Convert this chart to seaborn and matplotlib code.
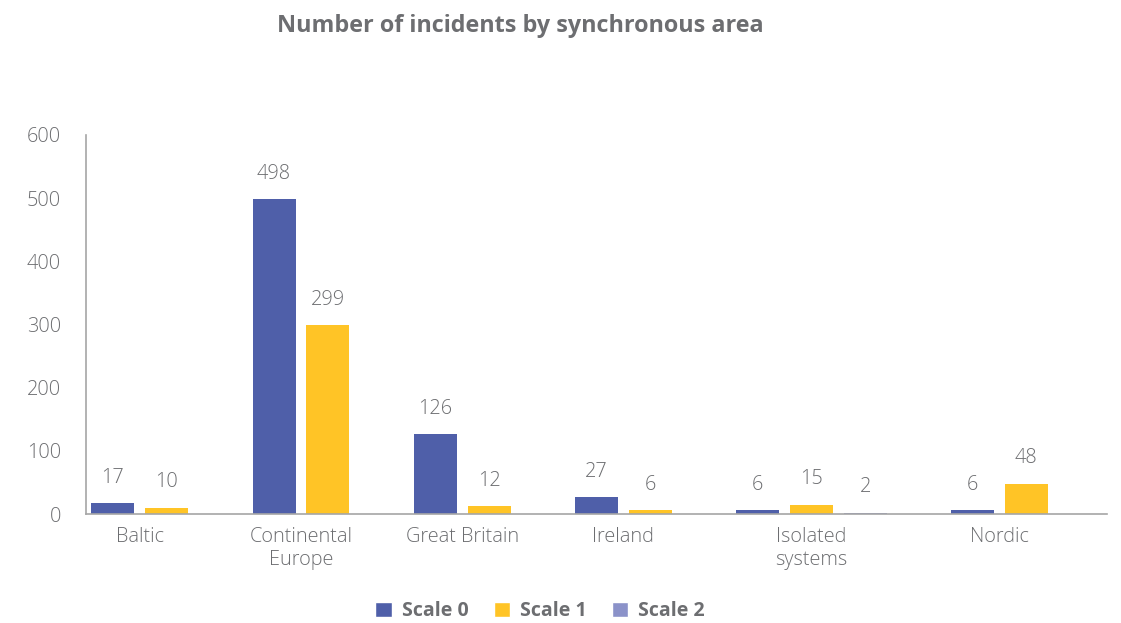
import numpy as np
import pandas as pd
import matplotlib
matplotlib.use("Agg")
import matplotlib.pyplot as plt
import seaborn as sns
from matplotlib.patches import Patch

categories = ["Baltic", "Continental\nEurope", "Great Britain", "Ireland", "Isolated\nsystems", "Nordic"]
series = ["Scale 0", "Scale 1", "Scale 2"]
scale0 = [17, 498, 126, 27, 6, 6]
scale1 = [10, 299, 12, 6, 15, 48]
scale2 = [None, None, None, None, 2, None]
colors = {"Scale 0": "#4f5fa9", "Scale 1": "#ffc426", "Scale 2": "#8b92c9"}
yticks = [0, 100, 200, 300, 400, 500, 600]

sns.set_theme(style="white")
plt.rcParams["font.family"] = ["Open Sans", "DejaVu Sans"]
grey = "#6d6e71"
fs = 14.3

# build long table; bars of each category occupy consecutive slots, one empty slot between groups
rows = []
centers = []
pos = 0
for i, cat in enumerate(categories):
    start = pos
    for s, vals in zip(series, [scale0, scale1, scale2]):
        v = vals[i]
        if v is not None:
            rows.append({"pos": pos, "value": v, "series": s, "cat": cat})
            pos += 1
    centers.append((start + pos - 1) / 2)
    pos += 1
df = pd.DataFrame(rows)

fig = plt.figure(figsize=(11.21, 6.23), dpi=100)
ax = fig.add_axes([86 / 1121, 109 / 623, (1107 - 86) / 1121, (514 - 135) / 623])

sns.barplot(data=df, x="pos", y="value", hue="series", palette=colors,
            native_scale=True, dodge=False, width=0.8, legend=False, ax=ax,
            saturation=1, linewidth=0)

for _, r in df.iterrows():
    ax.annotate(f"{r['value']}", (r["pos"], r["value"]), xytext=(0, 11),
                textcoords="offset points", ha="center", va="bottom",
                fontsize=fs, color=grey, fontweight="light")

ax.set_xlim(-0.5, pos - 0.5)
ax.set_ylim(0, 600)
ax.set_yticks(yticks)
ax.set_yticklabels([str(t) for t in yticks], fontsize=fs, color=grey, fontweight="light")
ax.set_xticks(centers)
ax.set_xticklabels(categories, fontsize=fs, color=grey, linespacing=1.2, va="top",
                   fontweight="light")
ax.tick_params(axis="both", length=0)
ax.tick_params(axis="x", pad=9)
ax.tick_params(axis="y", pad=18)
ax.set_xlabel("")
ax.set_ylabel("")
for side in ["top", "right"]:
    ax.spines[side].set_visible(False)
for side in ["left", "bottom"]:
    ax.spines[side].set_color("#a6a6a6")
    ax.spines[side].set_linewidth(1.2)

fig.text(520 / 1121, 1 - 26 / 623, "Number of incidents by synchronous area",
         ha="center", va="center", fontsize=16.8, fontweight="bold", color=grey)

handles = [Patch(facecolor=colors[s], label=s) for s in series]
leg = fig.legend(handles=handles, loc="center", bbox_to_anchor=(540 / 1121, 1 - 611 / 623),
                 ncol=3, frameon=False, handlelength=0.85, handleheight=0.85,
                 handletextpad=0.5, columnspacing=1.3,
                 prop={"size": 14, "weight": "bold"})
for t in leg.get_texts():
    t.set_color(grey)

fig.savefig("out.png", dpi=100)
